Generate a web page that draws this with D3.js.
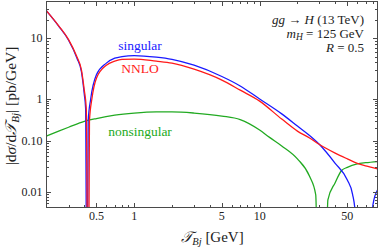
<!DOCTYPE html>
<html><head><meta charset="utf-8">
<script src="https://cdn.jsdelivr.net/npm/d3@7"></script>
<style>body{margin:0;background:#fff}svg{display:block}text{font-family:"Liberation Serif","DejaVu Serif",serif}</style>
</head><body><svg id="c" width="382" height="248"></svg>
<script>
// ---- data ----
const nnloTau = [0.2,0.25,0.3,0.35,0.38,0.40,0.415,0.431,0.44,0.46,0.5,0.6,0.7,0.8,1,1.5,2,3,5,7,10,15,20,25,30,40,50,60,70,87];
const nnloVal = [28,16,9.5,4.9,3.0,1.4,0.6,0,-0.3,-1.0,-2.2,-3.6,-4.2,-4.5,-4.55,-4.2,-3.9,-3.1,-2.05,-1.4,-0.89,-0.33,-0.17,-0.116,-0.084,-0.057,-0.044,-0.036,-0.032,-0.028];
const singTau = [0.2,0.25,0.3,0.35,0.38,0.40,0.41,0.42,0.43,0.45,0.5,0.6,0.7,0.8,1,1.5,2,3,5,7,10,15,20,25,30,40,50,55,58,59.8,65,70,74.2,80,87];
const singVal = [28,15.8,9.3,4.7,2.8,1.2,0.6,0,-0.3,-1.0,-2.5,-3.9,-4.7,-5.0,-5.2,-4.9,-4.5,-3.6,-2.35,-1.64,-1.0,-0.44,-0.225,-0.133,-0.084,-0.036,-0.017,-0.009,-0.0035,0,0.003,0.002,0,-0.0055,-0.0108];
const nsTau = [0.2,0.25,0.3,0.4,0.5,0.7,1,1.5,2,3,5,7,10,12,15,20,25,28,29.6,31.3,33,35,40,45,50,60,70,87];
const nsVal = [0.13,0.17,0.21,0.29,0.34,0.41,0.46,0.49,0.49,0.46,0.39,0.32,0.18,0.12,0.079,0.044,0.020,0.0087,0,-0.002,0,0.0069,0.015,0.026,0.030,0.035,0.037,0.039];
const xMajor = [0.5,1,5,10,50];
const xMajorLabels = ["0.5","1","5","10","50"];
const xMinor = [0.3,0.4,0.6,0.7,0.8,0.9,2,3,4,6,7,8,9,20,30,40,60,70,80];
const yMajor = [10,1,0.1,0.01];
const yMajorLabels = ["10","1","0.10","0.01"];
const yMinor = [0.005,0.006,0.007,0.008,0.009,0.02,0.03,0.04,0.05,0.06,0.07,0.08,0.09,0.2,0.3,0.4,0.5,0.6,0.7,0.8,0.9,2,3,4,5,6,7,8,9,20,30];

// ---- drawing ----
const svg = d3.select("#c");
const L=46.5,R=377.5,T=1.5,B=207.5;
const x = d3.scaleLog().domain([0.2,87]).range([L,R]);
const y = d3.scaleLog().domain([0.00486,0.01,0.1,1,10,39.8]).range([B,191.7,140.7,99,38.3,T]);
const axisCol="#4a4a4a";

svg.append("clipPath").attr("id","clip").append("rect").attr("x",L).attr("y",T).attr("width",R-L).attr("height",B-T);
const g = svg.append("g").attr("clip-path","url(#clip)");
const line = d3.line().x(d=>x(d[0])).y(d=>y(Math.max(Math.abs(d[1]),1e-5))).curve(d3.curveMonotoneX);
const series = [
  {t:nsTau,v:nsVal,c:"#22aa22"},
  {t:singTau,v:singVal,c:"#1a1aff"},
  {t:nnloTau,v:nnloVal,c:"#ff1a1a"}
];
series.forEach(s=>{
  g.append("path").datum(s.t.map((t,i)=>[t,s.v[i]])).attr("d",line)
   .attr("fill","none").attr("stroke",s.c).attr("stroke-width",1.3);
});

// frame
svg.append("rect").attr("x",L).attr("y",T).attr("width",R-L).attr("height",B-T)
  .attr("fill","none").attr("stroke",axisCol).attr("stroke-width",1);
const tk = svg.append("g").attr("stroke",axisCol).attr("stroke-width",1);
function xt(v,len){const p=Math.round(x(v))+0.5;
  tk.append("line").attr("x1",p).attr("x2",p).attr("y1",B).attr("y2",B-len);
  tk.append("line").attr("x1",p).attr("x2",p).attr("y1",T).attr("y2",T+len);}
function yt(v,len){const p=Math.round(y(v))+0.5;
  tk.append("line").attr("y1",p).attr("y2",p).attr("x1",L).attr("x2",L+len);
  tk.append("line").attr("y1",p).attr("y2",p).attr("x1",R).attr("x2",R-len);}
xMajor.forEach(v=>xt(v,4.5)); xMinor.forEach(v=>xt(v,2.5));
yMajor.forEach(v=>yt(v,4.5)); yMinor.forEach(v=>yt(v,2.5));

xMajor.forEach((v,i)=>svg.append("text").attr("x",x(v)).attr("y",219.5).attr("text-anchor","middle")
  .attr("font-size",12).attr("fill","#222").text(xMajorLabels[i]));
yMajor.forEach((v,i)=>svg.append("text").attr("x",42.5).attr("y",y(v)+4).attr("text-anchor","end")
  .attr("font-size",12).attr("fill","#222").text(yMajorLabels[i]));

// axis titles
const xtit = svg.append("text").attr("x",212.5).attr("y",242).attr("text-anchor","middle").attr("font-size",15).attr("fill","#222");
xtit.append("tspan").attr("font-style","italic").text("𝒯");
xtit.append("tspan").attr("font-style","italic").attr("font-size",10.5).attr("dy",3).text("Bj");
xtit.append("tspan").attr("dy",-3).text(" [GeV]");
const ytit = svg.append("text").attr("transform","translate(16,106) rotate(-90)").attr("text-anchor","middle").attr("font-size",15.5).attr("fill","#222");
ytit.append("tspan").text("|d");
ytit.append("tspan").attr("font-style","italic").text("σ");
ytit.append("tspan").text("/d");
ytit.append("tspan").attr("font-style","italic").text("𝒯");
ytit.append("tspan").attr("font-style","italic").attr("font-size",11).attr("dy",3).text("Bj");
ytit.append("tspan").attr("dy",-3).text("| [pb/GeV]");

// annotation
const a1 = svg.append("text").attr("x",364).attr("y",24).attr("text-anchor","end").attr("font-size",13).attr("fill","#222");
a1.append("tspan").attr("font-style","italic").text("gg");
a1.append("tspan").text(" → ");
a1.append("tspan").attr("font-style","italic").text("H");
a1.append("tspan").text(" (13 TeV)");
const a2 = svg.append("text").attr("x",364).attr("y",38).attr("text-anchor","end").attr("font-size",13).attr("fill","#222");
a2.append("tspan").attr("font-style","italic").text("m");
a2.append("tspan").attr("font-style","italic").attr("font-size",9.5).attr("dy",2).text("H");
a2.append("tspan").attr("dy",-2).text(" = 125 GeV");
const a3 = svg.append("text").attr("x",364).attr("y",52).attr("text-anchor","end").attr("font-size",13).attr("fill","#222");
a3.append("tspan").attr("font-style","italic").text("R");
a3.append("tspan").text(" = 0.5");

// series labels
svg.append("text").attr("x",140).attr("y",49.5).attr("text-anchor","middle").attr("font-size",13.5).attr("fill","#1a1aff").text("singular");
svg.append("text").attr("x",140).attr("y",72.5).attr("text-anchor","middle").attr("font-size",13.5).attr("fill","#ff1a1a").text("NNLO");
svg.append("text").attr("x",140).attr("y",135.5).attr("text-anchor","middle").attr("font-size",13.5).attr("fill","#22aa22").text("nonsingular");
</script></body></html>
